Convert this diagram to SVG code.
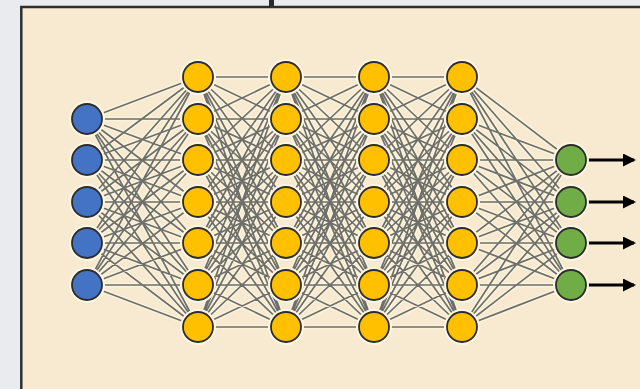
<svg xmlns="http://www.w3.org/2000/svg" width="640" height="389" viewBox="0 0 640 389">
<defs>
<style>
.bg{fill:#e9ebef}
.panel{fill:#f8ead0;stroke:#2e2e2e;stroke-width:2.5}
.glow{fill:#fdf6e2}
.n{stroke:#2c2c2c;stroke-width:1.8}
.in{fill:#4472c4}
.hid{fill:#ffc000}
.out{fill:#70ad47}
.arr{stroke:#000;stroke-width:3;fill:none}
</style>
<marker id="ah" markerWidth="13" markerHeight="13" refX="11" refY="6.5" orient="auto" markerUnits="userSpaceOnUse">
<path d="M0,0 L13,6.5 L0,13 z" fill="#000"/>
</marker>
<path id="e01" fill="none" d="M87 119L198 77M87 119L198 119M87 119L198 160M87 119L198 202M87 119L198 243M87 119L198 285M87 119L198 327M87 160L198 77M87 160L198 119M87 160L198 160M87 160L198 202M87 160L198 243M87 160L198 285M87 160L198 327M87 202L198 77M87 202L198 119M87 202L198 160M87 202L198 202M87 202L198 243M87 202L198 285M87 202L198 327M87 243L198 77M87 243L198 119M87 243L198 160M87 243L198 202M87 243L198 243M87 243L198 285M87 243L198 327M87 285L198 77M87 285L198 119M87 285L198 160M87 285L198 202M87 285L198 243M87 285L198 285M87 285L198 327"/>
<path id="e12" fill="none" d="M198 77L286 77M198 77L286 119M198 77L286 160M198 77L286 202M198 77L286 243M198 77L286 285M198 77L286 327M198 119L286 77M198 119L286 119M198 119L286 160M198 119L286 202M198 119L286 243M198 119L286 285M198 119L286 327M198 160L286 77M198 160L286 119M198 160L286 160M198 160L286 202M198 160L286 243M198 160L286 285M198 160L286 327M198 202L286 77M198 202L286 119M198 202L286 160M198 202L286 202M198 202L286 243M198 202L286 285M198 202L286 327M198 243L286 77M198 243L286 119M198 243L286 160M198 243L286 202M198 243L286 243M198 243L286 285M198 243L286 327M198 285L286 77M198 285L286 119M198 285L286 160M198 285L286 202M198 285L286 243M198 285L286 285M198 285L286 327M198 327L286 77M198 327L286 119M198 327L286 160M198 327L286 202M198 327L286 243M198 327L286 285M198 327L286 327"/>
<path id="e45" fill="none" d="M462 77L571 160M462 77L571 202M462 77L571 243M462 77L571 285M462 119L571 160M462 119L571 202M462 119L571 243M462 119L571 285M462 160L571 160M462 160L571 202M462 160L571 243M462 160L571 285M462 202L571 160M462 202L571 202M462 202L571 243M462 202L571 285M462 243L571 160M462 243L571 202M462 243L571 243M462 243L571 285M462 285L571 160M462 285L571 202M462 285L571 243M462 285L571 285M462 327L571 160M462 327L571 202M462 327L571 243M462 327L571 285"/>
<g id="alledges">
<use href="#e01"/>
<use href="#e12"/>
<use href="#e12" x="88"/>
<use href="#e12" x="176"/>
<use href="#e45"/>
</g>
</defs>
<rect class="bg" x="0" y="0" width="640" height="389"/>
<rect x="269" y="0" width="5" height="7" fill="#2a2a2a"/>
<rect class="panel" x="21.3" y="7" width="640" height="400"/>
<g id="connectors">
<use href="#alledges" stroke="#fbf3dc" stroke-width="4.5"/>
<use href="#alledges" stroke="#6e6f6a" stroke-width="1.7"/>
<line class="arr" x1="587" y1="160" x2="634" y2="160" marker-end="url(#ah)"/>
<line class="arr" x1="587" y1="202" x2="634" y2="202" marker-end="url(#ah)"/>
<line class="arr" x1="587" y1="243" x2="634" y2="243" marker-end="url(#ah)"/>
<line class="arr" x1="587" y1="285" x2="634" y2="285" marker-end="url(#ah)"/>
</g>
<g id="in1"><circle class="glow" cx="87" cy="119" r="18"/><circle class="n in" cx="87" cy="119" r="15"/></g>
<g id="in2"><circle class="glow" cx="87" cy="160" r="18"/><circle class="n in" cx="87" cy="160" r="15"/></g>
<g id="in3"><circle class="glow" cx="87" cy="202" r="18"/><circle class="n in" cx="87" cy="202" r="15"/></g>
<g id="in4"><circle class="glow" cx="87" cy="243" r="18"/><circle class="n in" cx="87" cy="243" r="15"/></g>
<g id="in5"><circle class="glow" cx="87" cy="285" r="18"/><circle class="n in" cx="87" cy="285" r="15"/></g>
<g id="h1n1"><circle class="glow" cx="198" cy="77" r="18"/><circle class="n hid" cx="198" cy="77" r="15"/></g>
<g id="h1n2"><circle class="glow" cx="198" cy="119" r="18"/><circle class="n hid" cx="198" cy="119" r="15"/></g>
<g id="h1n3"><circle class="glow" cx="198" cy="160" r="18"/><circle class="n hid" cx="198" cy="160" r="15"/></g>
<g id="h1n4"><circle class="glow" cx="198" cy="202" r="18"/><circle class="n hid" cx="198" cy="202" r="15"/></g>
<g id="h1n5"><circle class="glow" cx="198" cy="243" r="18"/><circle class="n hid" cx="198" cy="243" r="15"/></g>
<g id="h1n6"><circle class="glow" cx="198" cy="285" r="18"/><circle class="n hid" cx="198" cy="285" r="15"/></g>
<g id="h1n7"><circle class="glow" cx="198" cy="327" r="18"/><circle class="n hid" cx="198" cy="327" r="15"/></g>
<g id="h2n1"><circle class="glow" cx="286" cy="77" r="18"/><circle class="n hid" cx="286" cy="77" r="15"/></g>
<g id="h2n2"><circle class="glow" cx="286" cy="119" r="18"/><circle class="n hid" cx="286" cy="119" r="15"/></g>
<g id="h2n3"><circle class="glow" cx="286" cy="160" r="18"/><circle class="n hid" cx="286" cy="160" r="15"/></g>
<g id="h2n4"><circle class="glow" cx="286" cy="202" r="18"/><circle class="n hid" cx="286" cy="202" r="15"/></g>
<g id="h2n5"><circle class="glow" cx="286" cy="243" r="18"/><circle class="n hid" cx="286" cy="243" r="15"/></g>
<g id="h2n6"><circle class="glow" cx="286" cy="285" r="18"/><circle class="n hid" cx="286" cy="285" r="15"/></g>
<g id="h2n7"><circle class="glow" cx="286" cy="327" r="18"/><circle class="n hid" cx="286" cy="327" r="15"/></g>
<g id="h3n1"><circle class="glow" cx="374" cy="77" r="18"/><circle class="n hid" cx="374" cy="77" r="15"/></g>
<g id="h3n2"><circle class="glow" cx="374" cy="119" r="18"/><circle class="n hid" cx="374" cy="119" r="15"/></g>
<g id="h3n3"><circle class="glow" cx="374" cy="160" r="18"/><circle class="n hid" cx="374" cy="160" r="15"/></g>
<g id="h3n4"><circle class="glow" cx="374" cy="202" r="18"/><circle class="n hid" cx="374" cy="202" r="15"/></g>
<g id="h3n5"><circle class="glow" cx="374" cy="243" r="18"/><circle class="n hid" cx="374" cy="243" r="15"/></g>
<g id="h3n6"><circle class="glow" cx="374" cy="285" r="18"/><circle class="n hid" cx="374" cy="285" r="15"/></g>
<g id="h3n7"><circle class="glow" cx="374" cy="327" r="18"/><circle class="n hid" cx="374" cy="327" r="15"/></g>
<g id="h4n1"><circle class="glow" cx="462" cy="77" r="18"/><circle class="n hid" cx="462" cy="77" r="15"/></g>
<g id="h4n2"><circle class="glow" cx="462" cy="119" r="18"/><circle class="n hid" cx="462" cy="119" r="15"/></g>
<g id="h4n3"><circle class="glow" cx="462" cy="160" r="18"/><circle class="n hid" cx="462" cy="160" r="15"/></g>
<g id="h4n4"><circle class="glow" cx="462" cy="202" r="18"/><circle class="n hid" cx="462" cy="202" r="15"/></g>
<g id="h4n5"><circle class="glow" cx="462" cy="243" r="18"/><circle class="n hid" cx="462" cy="243" r="15"/></g>
<g id="h4n6"><circle class="glow" cx="462" cy="285" r="18"/><circle class="n hid" cx="462" cy="285" r="15"/></g>
<g id="h4n7"><circle class="glow" cx="462" cy="327" r="18"/><circle class="n hid" cx="462" cy="327" r="15"/></g>
<g id="out1"><circle class="glow" cx="571" cy="160" r="18"/><circle class="n out" cx="571" cy="160" r="15"/></g>
<g id="out2"><circle class="glow" cx="571" cy="202" r="18"/><circle class="n out" cx="571" cy="202" r="15"/></g>
<g id="out3"><circle class="glow" cx="571" cy="243" r="18"/><circle class="n out" cx="571" cy="243" r="15"/></g>
<g id="out4"><circle class="glow" cx="571" cy="285" r="18"/><circle class="n out" cx="571" cy="285" r="15"/></g>
</svg>
